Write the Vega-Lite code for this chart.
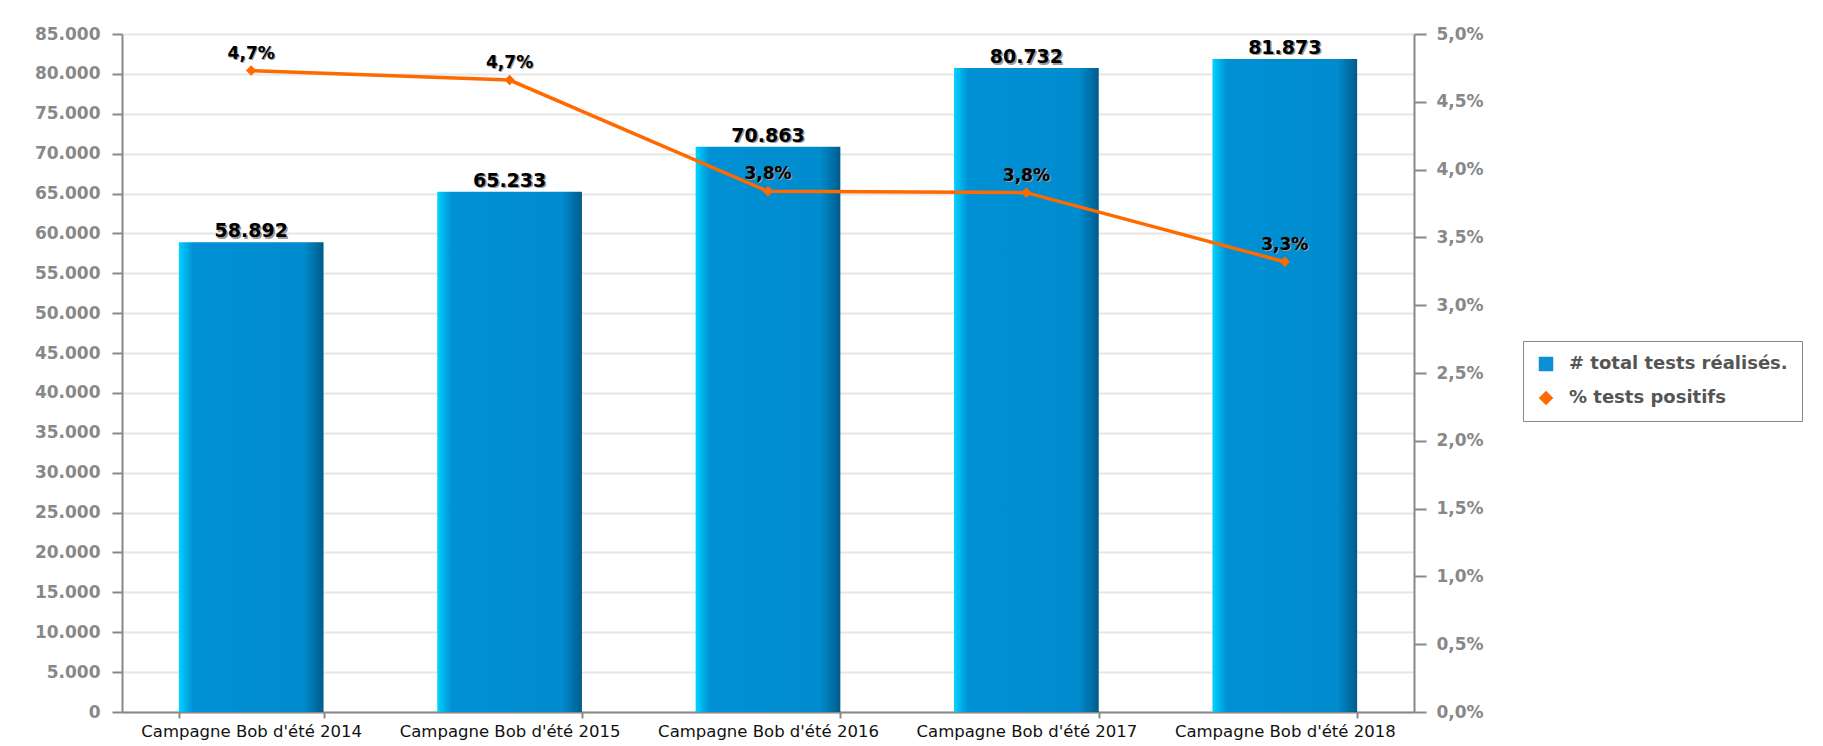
{
  "$schema": "https://vega.github.io/schema/vega-lite/v6.json",
  "autosize": {"type": "none"},
  "padding": {"left": 122, "top": 34, "right": 409, "bottom": 34},
  "width": 1292,
  "height": 678,
  "background": "white",
  "data": {
    "values": [
      {"campagne": "Campagne Bob d'été 2014", "tests": 58892, "pct": 0.0473},
      {"campagne": "Campagne Bob d'été 2015", "tests": 65233, "pct": 0.0466},
      {"campagne": "Campagne Bob d'été 2016", "tests": 70863, "pct": 0.0384},
      {"campagne": "Campagne Bob d'été 2017", "tests": 80732, "pct": 0.0383},
      {"campagne": "Campagne Bob d'été 2018", "tests": 81873, "pct": 0.0332}
    ]
  },
  "encoding": {
    "x": {
      "field": "campagne", "type": "nominal", "sort": null,
      "scale": {"paddingInner": 0.44, "paddingOuter": 0.22},
      "axis": {
        "title": null, "labelAngle": 0, "tickBand": "extent", "grid": false,
        "domainColor": "#888", "domainWidth": 2, "tickColor": "#888", "tickWidth": 2, "tickSize": 6,
        "labelColor": "#111", "labelFont": "DejaVu Sans", "labelFontSize": 16.5, "labelPadding": 5, "labelLimit": 300
      }
    }
  },
  "layer": [
    {
      "encoding": {
        "y": {
          "field": "tests", "type": "quantitative",
          "scale": {"domain": [0, 85000], "nice": false},
          "axis": {
            "title": null, "orient": "left", "values": [0,5000,10000,15000,20000,25000,30000,35000,40000,45000,50000,55000,60000,65000,70000,75000,80000,85000],
            "format": ",d", "grid": true, "gridColor": "#e6e6e6", "gridWidth": 2,
            "domainColor": "#888", "domainWidth": 2, "tickColor": "#888", "tickWidth": 2, "tickSize": 10,
            "labelColor": "#888", "labelFont": "DejaVu Sans", "labelFontWeight": "bold", "labelFontSize": 17, "labelPadding": 12
          }
        }
      },
      "layer": [
        {
          "mark": {
            "type": "bar",
            "fill": {
              "gradient": "linear", "x1": 0, "x2": 1, "y1": 0, "y2": 0,
              "stops": [
                {"offset": 0, "color": "#00d4ff"},
                {"offset": 0.05, "color": "#00b0ea"},
                {"offset": 0.1, "color": "#0090d4"},
                {"offset": 0.86, "color": "#008ccf"},
                {"offset": 1, "color": "#005c8c"}
              ]
            }
          },
          "encoding": {
            "color": {
              "datum": "# total tests réalisés.",
              "scale": {"domain": ["# total tests réalisés.", "% tests positifs"], "range": ["#0b8fd6", "#ff6a00"]},
              "legend": {
                "title": null, "orient": "none", "legendX": 1401, "legendY": 307,
                "strokeColor": "#888", "fillColor": "white", "padding": 14,
                "labelFont": "DejaVu Sans", "labelFontWeight": "bold", "labelFontSize": 18, "labelColor": "#555",
                "labelLimit": 400,
                "symbolSize": 210, "rowPadding": 16, "labelOffset": 14,
                "encode": {
                  "symbols": {
                    "update": {
                      "shape": {"signal": "datum.value === '% tests positifs' ? 'diamond' : 'square'"},
                      "fill": {"signal": "datum.value === '% tests positifs' ? '#ff6a00' : '#0b8fd6'"},
                      "strokeWidth": {"value": 0},
                      "opacity": {"value": 1}
                    }
                  }
                }
              }
            }
          }
        },
        {
          "mark": {"type": "text", "dy": -3.5, "dx": 1.5, "font": "DejaVu Sans", "fontWeight": "bold", "fontSize": 19, "color": "#9a9a9a", "baseline": "alphabetic"},
          "encoding": {"text": {"field": "tests", "type": "quantitative", "format": ",d"}}
        },
        {
          "mark": {"type": "text", "dy": -5, "font": "DejaVu Sans", "fontWeight": "bold", "fontSize": 19, "color": "#000", "baseline": "alphabetic"},
          "encoding": {"text": {"field": "tests", "type": "quantitative", "format": ",d"}}
        }
      ]
    },
    {
      "encoding": {
        "y": {
          "field": "pct", "type": "quantitative",
          "scale": {"domain": [0, 0.05], "nice": false},
          "axis": {
            "title": null, "orient": "right", "values": [0,0.005,0.01,0.015,0.02,0.025,0.03,0.035,0.04,0.045,0.05],
            "format": ".1%", "grid": false,
            "domainColor": "#888", "domainWidth": 2, "tickColor": "#888", "tickWidth": 2, "tickSize": 12,
            "labelColor": "#888", "labelFont": "DejaVu Sans", "labelFontWeight": "bold", "labelFontSize": 17, "labelPadding": 10
          }
        }
      },
      "layer": [
        {
          "mark": {"type": "line", "color": "#ff6a00", "strokeWidth": 3.5}
        },
        {
          "mark": {"type": "point", "shape": "diamond", "filled": true, "size": 110, "opacity": 1},
          "encoding": {"color": {"datum": "% tests positifs"}}
        },
        {
          "mark": {"type": "text", "dy": -11, "dx": 1, "font": "DejaVu Sans", "fontWeight": "bold", "fontSize": 17, "color": "#9a9a9a", "baseline": "alphabetic"},
          "encoding": {"text": {"field": "pct", "type": "quantitative", "format": ".1%"}}
        },
        {
          "mark": {"type": "text", "dy": -12, "font": "DejaVu Sans", "fontWeight": "bold", "fontSize": 17, "color": "#000", "baseline": "alphabetic"},
          "encoding": {"text": {"field": "pct", "type": "quantitative", "format": ".1%"}}
        }
      ]
    }
  ],
  "resolve": {"scale": {"y": "independent"}},
  "config": {
    "locale": {"number": {"decimal": ",", "thousands": ".", "grouping": [3], "currency": ["", " €"]}},
    "view": {"stroke": null}
  }
}
